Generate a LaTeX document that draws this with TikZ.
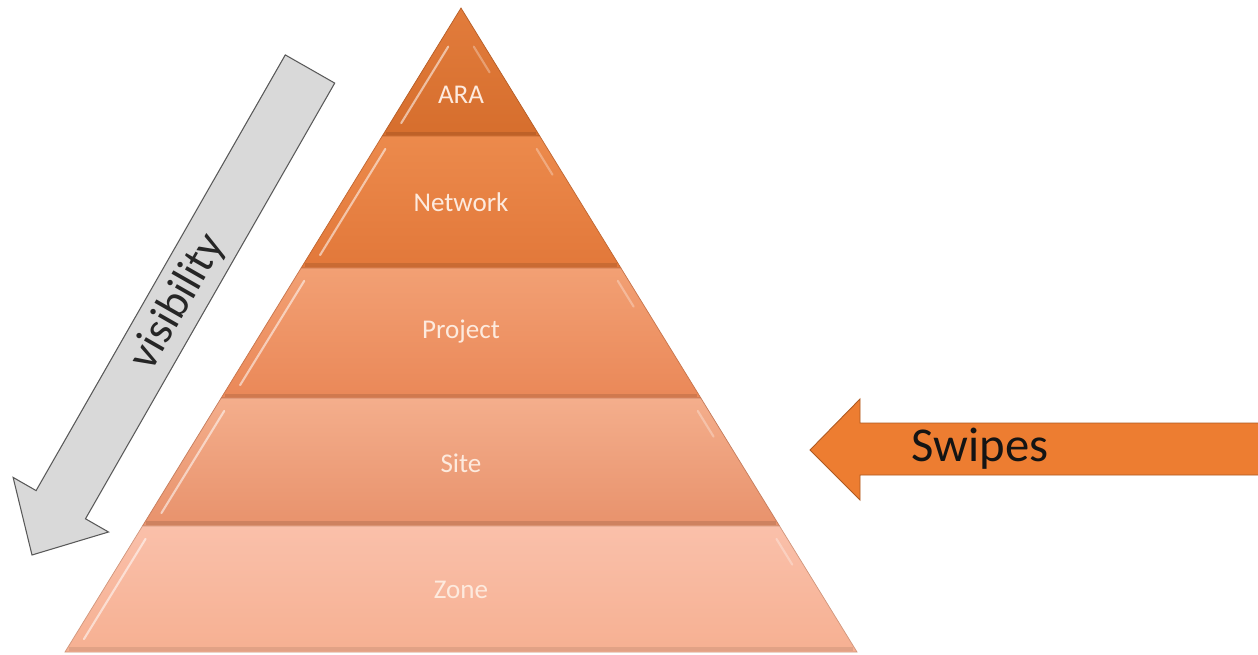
\documentclass[tikz,border=0pt]{standalone}
\usepackage{fontspec}
\setmainfont{Carlito}
\usetikzlibrary{calc}
\definecolor{araT}{RGB}{226,124,60}
\definecolor{araB}{RGB}{214,110,45}
\definecolor{netT}{RGB}{236,138,76}
\definecolor{netB}{RGB}{226,120,58}
\definecolor{proT}{RGB}{242,160,116}
\definecolor{proB}{RGB}{234,136,88}
\definecolor{sitT}{RGB}{244,174,140}
\definecolor{sitB}{RGB}{232,146,108}
\definecolor{zonT}{RGB}{250,192,170}
\definecolor{zonB}{RGB}{246,176,146}
\definecolor{swipeC}{RGB}{237,125,49}
\definecolor{swipeD}{RGB}{174,90,33}
\definecolor{visC}{RGB}{217,217,217}
\definecolor{visD}{RGB}{89,89,89}
\definecolor{lblC}{RGB}{253,234,222}
\tikzset{
  lbl/.style={text=lblC, font=\fontsize{15.4}{18}\selectfont},
  band/.style={line width=2.2pt, opacity=0.55},
  shine/.style={line width=1.2pt, white, opacity=0.55, line cap=round},
}
\newcommand\pyrlayer[6]{%
  \shade[top color=#3,bottom color=#4,draw=#4!85!black,line width=0.4pt]
    ($(A)!#1!(BL)$) -- ($(A)!#2!(BL)$) -- ($(A)!#2!(BR)$) -- ($(A)!#1!(BR)$) -- cycle;
  \draw[band,#5] ($(A)!#2-0.004!(BL)+(2,0)$) -- ($(A)!#2-0.004!(BR)+(-2,0)$);
  \draw[shine] ($(A)!#2-0.02!(BL)+(11,0)$) -- ($(A)!#1+#6!(BL)+(11,0)$);
  \draw[shine,opacity=0.3] ($(A)!#1+#6!(BR)+(-11,0)$) -- ($(A)!#1+#6+0.04!(BR)+(-11,0)$);
}
\begin{document}
\begin{tikzpicture}[x=0.02cm,y=-0.02cm]
\clip (0,0) rectangle (1258,655);
\fill[white] (0,0) rectangle (1258,655);
\coordinate (A) at (461,8);
\coordinate (BL) at (65,652);
\coordinate (BR) at (857,652);
% pyramid layers
\pyrlayer{0}{0.1988}{araT}{araB}{araB!80!black}{0.06}
\pyrlayer{0.1988}{0.4037}{netT}{netB}{netB!80!black}{0.02}
\pyrlayer{0.4037}{0.6056}{proT}{proB}{proB!80!black}{0.02}
\pyrlayer{0.6056}{0.8043}{sitT}{sitB}{sitB!80!black}{0.02}
\pyrlayer{0.8043}{1}{zonT}{zonB}{zonB!85!black}{0.02}
\node[lbl] (ara) at (461,95) {ARA};
\node[lbl] (net) at (461,202) {Network};
\node[lbl] (pro) at (461,332) {Project};
\node[lbl] (sit) at (461,463) {Site};
\node[lbl] (zon) at (461,590) {Zone};
% visibility arrow
\draw[fill=visC, draw=visD, line width=0.6pt, line join=miter]
  (334.7,83.1) -- (85.5,518.8) -- (108.5,532) -- (32,555) -- (13.1,477.4)
  -- (36.1,490.6) -- (285.3,54.9) -- cycle;
\node[rotate=60.2, text={rgb,255:red,38;green,38;blue,38}, font=\fontsize{25.6}{30}\selectfont] (vis) at (178,302) {visibility};
% swipes arrow
\draw[fill=swipeC, draw=swipeD, line width=0.5pt, line join=miter]
  (1270,423) -- (860,423) -- (860,399) -- (810,450) -- (860,500) -- (860,475) -- (1270,475) -- cycle;
\node[text={rgb,255:red,20;green,20;blue,20}, font=\fontsize{27.7}{32}\selectfont] (swp) at (980,449) {Swipes};
\end{tikzpicture}
\end{document}
